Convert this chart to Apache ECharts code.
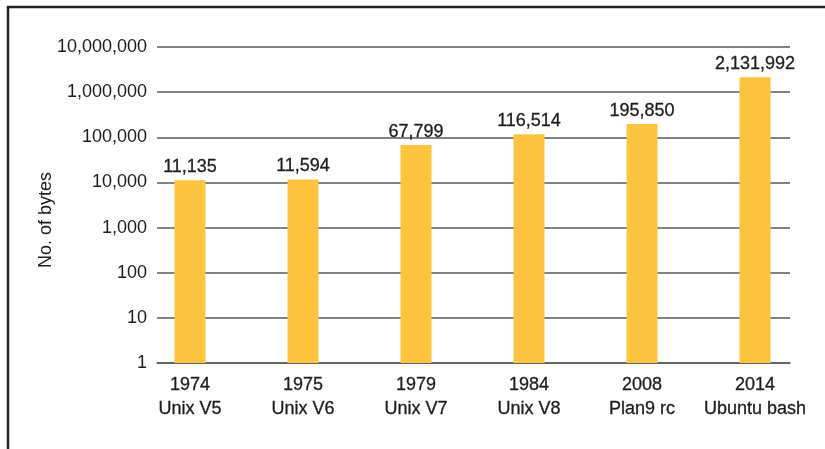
<!DOCTYPE html>
<html>
<head>
<meta charset="utf-8">
<script src="https://cdn.jsdelivr.net/npm/echarts@6/dist/echarts.min.js"></script>
<style>
html,body{margin:0;padding:0;background:#fff;}
#c{width:825px;height:449px;}
</style>
</head>
<body>
<div id="c"></div>
<script>
const categories = ['1974\nUnix V5', '1975\nUnix V6', '1979\nUnix V7', '1984\nUnix V8', '2008\nPlan9 rc', '2014\nUbuntu bash'];
const bytes = [11135, 11594, 67799, 116514, 195850, 2131992];
const yTicks = [1, 10, 100, 1000, 10000, 100000, 1000000, 10000000];
const yName = 'No. of bytes';

const FONT = 'Liberation Sans';
const TXT = '#1f1c1d';
const fmt = v => Number(v).toLocaleString('en-US');

const chart = echarts.init(document.getElementById('c'), null, {renderer: 'canvas'});
chart.setOption({
  animation: false,
  backgroundColor: '#fff',
  grid: [
    {left: 157, right: 35, top: 47, bottom: 86},
    {left: 133.5, right: 13.5, top: 47, bottom: 86}
  ],
  xAxis: [
    {gridIndex: 0, type: 'category', data: categories, show: true,
     axisLine: {show: true, lineStyle: {color: '#5a5a5a', width: 1.5}},
     axisTick: {show: false}, axisLabel: {show: false}, splitLine: {show: false}},
    {gridIndex: 1, type: 'category', data: categories,
     axisLine: {show: false}, axisTick: {show: false},
     axisLabel: {color: TXT, fontFamily: FONT, fontSize: 18, lineHeight: 24, margin: 10, interval: 0,
                 textBorderColor: TXT, textBorderWidth: 0.3}}
  ],
  yAxis: [
    {gridIndex: 0, type: 'log', logBase: 10, min: yTicks[0], max: yTicks[yTicks.length - 1],
     axisLine: {show: false}, axisTick: {show: false},
     splitLine: {show: true, lineStyle: {color: '#5a5a5a', width: 1.5}},
     axisLabel: {color: TXT, fontFamily: FONT, fontSize: 18, margin: 10, formatter: fmt}},
    {gridIndex: 1, type: 'log', logBase: 10, min: yTicks[0], max: yTicks[yTicks.length - 1], show: false}
  ],
  graphic: [
    {type: 'line', shape: {x1: 7, y1: 7, x2: 825, y2: 7}, style: {stroke: '#222', lineWidth: 2.5}},
    {type: 'line', shape: {x1: 8, y1: 6, x2: 8, y2: 449}, style: {stroke: '#222', lineWidth: 2.5}},
    {type: 'text', x: 46, y: 220, rotation: Math.PI / 2,
     style: {text: yName, fill: TXT, font: '18px "' + FONT + '"', textAlign: 'center', textVerticalAlign: 'middle'}}
  ],
  series: [{
    type: 'bar', xAxisIndex: 1, yAxisIndex: 1, data: bytes, barWidth: 31,
    itemStyle: {color: '#fdc440'},
    label: {show: true, position: 'top', distance: 4, color: TXT, fontFamily: FONT, fontSize: 18,
            textBorderColor: TXT, textBorderWidth: 0.3, formatter: p => fmt(p.value)}
  }]
});
</script>
</body>
</html>
